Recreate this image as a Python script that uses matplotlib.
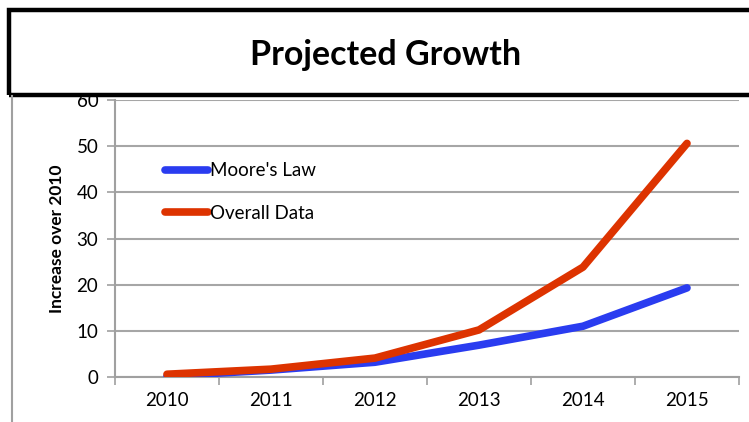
import matplotlib
matplotlib.use("Agg")
import matplotlib.pyplot as plt
from matplotlib.patches import Rectangle
from matplotlib.lines import Line2D

# data
years = ["2010", "2011", "2012", "2013", "2014", "2015"]
moores_law = [0.2, 1.5, 3.2, 6.9, 11.0, 19.3]
overall_data = [0.6, 1.7, 4.1, 10.2, 23.8, 50.6]
y_ticks = [0, 10, 20, 30, 40, 50, 60]

plt.rcParams['font.family'] = ['Lato', 'DejaVu Sans']

W, H = 749, 422
fig = plt.figure(figsize=(W / 100, H / 100), dpi=100)
fig.patch.set_facecolor("white")

# title box (runs off the right edge)
fig.patches.append(Rectangle((9 / W, 1 - 95 / H), 800 / W, 85 / H,
                             transform=fig.transFigure, fill=False,
                             edgecolor="black", linewidth=3.2, clip_on=False))
fig.text(386 / W, 1 - 55 / H, "Projected Growth", ha="center", va="center",
         fontsize=24.5, fontweight="bold", color="black")

# outer chart frame on the left
fig.lines.append(Line2D([12 / W, 12 / W], [0, 1 - 96 / H],
                        transform=fig.transFigure, color="#a0a0a0", linewidth=1.5))

ax = fig.add_axes([115 / W, 45 / H, 624 / W, 277 / H])
x = list(range(len(years)))

ax.plot(x, moores_law, color="#2a3cf0", linewidth=5.5, solid_capstyle="round",
        label="Moore's Law", zorder=3)
ax.plot(x, overall_data, color="#dd3300", linewidth=5.5, solid_capstyle="round",
        label="Overall Data", zorder=4)

ax.set_xlim(-0.5, len(years) - 0.5)
ax.set_ylim(0, 60)
ax.set_yticks(y_ticks)
ax.yaxis.grid(True, color="#a6a6a6", linewidth=1.5)
ax.set_axisbelow(True)

# category axis: ticks between categories, labels at centers
ax.set_xticks([i - 0.5 for i in range(len(years) + 1)])
ax.set_xticklabels([])
ax.set_xticks(x, minor=True)
ax.set_xticklabels(years, minor=True, fontsize=13.5)
ax.tick_params(axis="x", which="minor", length=0, pad=11)
ax.tick_params(axis="x", which="major", length=6, width=1.2, color="#a0a0a0")
ax.tick_params(axis="y", length=6, width=1.2, color="#a0a0a0", labelsize=13.5, pad=6)

for side in ["top", "right"]:
    ax.spines[side].set_visible(False)
for side in ["left", "bottom"]:
    ax.spines[side].set_color("#a0a0a0")
    ax.spines[side].set_linewidth(1.5)

ax.set_ylabel("Increase over 2010", fontsize=12.5, fontweight="bold", labelpad=8)

ax.legend(loc="upper left", bbox_to_anchor=(0.08, 0.775), frameon=False,
          borderpad=0, borderaxespad=0, handlelength=2.3, handletextpad=0.1,
          labelspacing=1.35, fontsize=13.5)

fig.savefig("out.png", dpi=100)
